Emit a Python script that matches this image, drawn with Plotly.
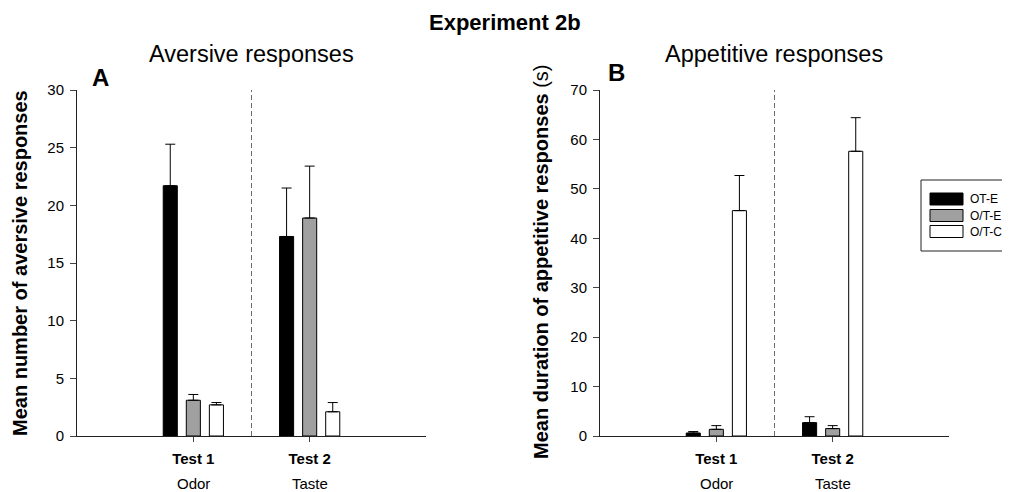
import plotly.graph_objects as go

# ---- data ----
tests = ["Test 1", "Test 2"]
modalities = ["Odor", "Taste"]
groups = ["OT-E", "O/T-E", "O/T-C"]
colors = ["#000000", "#a0a0a0", "#ffffff"]

aversive_mean = {"OT-E": [21.7, 17.3], "O/T-E": [3.1, 18.9], "O/T-C": [2.7, 2.1]}
aversive_upper = {"OT-E": [25.3, 21.5], "O/T-E": [3.6, 23.4], "O/T-C": [2.9, 2.9]}

appetitive_mean = {"OT-E": [0.6, 2.7], "O/T-E": [1.35, 1.5], "O/T-C": [45.6, 57.6]}
appetitive_upper = {"OT-E": [0.9, 3.9], "O/T-E": [2.1, 2.1], "O/T-C": [52.7, 64.4]}

FONT = "Arial, Liberation Sans, sans-serif"
W, H = 1010, 492
OFF = 8  # page offset of the plot div (body margin)


def px(x):
    return (x - OFF) / W


def py(y):
    return 1 - (y - OFF) / H


xpos = list(range(len(tests)))

fig = go.Figure()

for panel, (means, uppers) in enumerate([(aversive_mean, aversive_upper),
                                          (appetitive_mean, appetitive_upper)]):
    xa = "x" if panel == 0 else "x2"
    ya = "y" if panel == 0 else "y2"
    for g, c in zip(groups, colors):
        err = [u - m for u, m in zip(uppers[g], means[g])]
        fig.add_trace(go.Bar(
            x=xpos, y=means[g], name=g, xaxis=xa, yaxis=ya,
            marker=dict(color=c, line=dict(color="#000000", width=1)),
            error_y=dict(type="data", array=err, arrayminus=[0] * len(err),
                         symmetric=False, color="#000000", thickness=1, width=5),
            showlegend=False,
        ))
    # dashed separator between tests
    top = 30 if panel == 0 else 70
    fig.add_trace(go.Scatter(
        x=[0.5, 0.5], y=[0, top * 1.016],
        mode="lines", xaxis=xa, yaxis=ya, cliponaxis=False,
        line=dict(color="#6e6e6e", width=1, dash="5px,3px"),
        showlegend=False, hoverinfo="skip",
    ))

axis_common = dict(showline=True, linecolor="#222222", linewidth=1,
                   ticks="outside", tickcolor="#444444", ticklen=6,
                   showgrid=False, zeroline=False, automargin=False,
                   tickfont=dict(family=FONT, size=15, color="#000000"))
xaxis_common = dict(axis_common, ticklen=5, range=[-1, 2], tickvals=xpos,
                    ticktext=["<b>%s</b>" % t for t in tests], ticklabelstandoff=4)
yaxis_common = dict(axis_common, ticklabelstandoff=3)

ydom = [py(436), py(90)]
fig.update_layout(
    width=W, height=H,
    margin=dict(l=0, r=0, t=0, b=0, pad=0, autoexpand=False),
    paper_bgcolor="white", plot_bgcolor="white",
    barmode="group", bargap=0.405, bargroupgap=0.39,
    font=dict(family=FONT, color="#000000"),
    showlegend=False,
    xaxis=dict(domain=[px(77), px(426)], anchor="y", **xaxis_common),
    yaxis=dict(domain=ydom, range=[0, 30], dtick=5, anchor="x", **yaxis_common),
    xaxis2=dict(domain=[px(600), px(949)], anchor="y2", **xaxis_common),
    yaxis2=dict(domain=ydom, range=[0, 70], dtick=10, anchor="x2", **yaxis_common),
)

ann = []
ann.append(dict(text="<b>Experiment 2b</b>", x=505, y=9, font=dict(size=22), yanchor="top"))
ann.append(dict(text="Aversive responses", x=251, y=54, font=dict(size=23.5)))
ann.append(dict(text="Appetitive responses", x=774, y=54, font=dict(size=23.5)))
ann.append(dict(text="<b>A</b>", x=100, y=77, font=dict(size=24)))
ann.append(dict(text="<b>B</b>", x=616, y=72, font=dict(size=24)))
ann.append(dict(text="<b>Mean number of aversive responses</b>", x=20, y=263,
                textangle=-90, font=dict(size=20)))
ann.append(dict(text="<b>Mean duration of appetitive responses</b> (s)", x=541, y=262,
                textangle=-90, font=dict(size=20)))
layout_ann = []
for a in ann:
    layout_ann.append(dict(xref="paper", yref="paper", x=px(a["x"]), y=py(a["y"]),
                           xanchor="center", yanchor=a.get("yanchor", "middle"),
                           borderpad=0,
                           showarrow=False, text=a["text"], textangle=a.get("textangle", 0),
                           font=dict(family=FONT, color="#000000", **a["font"])))
# sub-labels under test ticks
for xa in ["x", "x2"]:
    for xp, m in zip(xpos, modalities):
        layout_ann.append(dict(xref=xa, yref="paper", x=xp, y=py(483),
                               xanchor="center", yanchor="middle", showarrow=False,
                               text=m, font=dict(family=FONT, size=15, color="#000000")))

# legend (manual, box partly clipped at right edge like the reference)
shapes = [dict(type="rect", xref="paper", yref="paper",
               x0=px(921), x1=1.05, y0=py(251), y1=py(180),
               line=dict(color="#222222", width=1), fillcolor="white")]
row_y = [199, 215.5, 231.5]
for g, c, ry in zip(groups, colors, row_y):
    shapes.append(dict(type="rect", xref="paper", yref="paper",
                       x0=px(930), x1=px(963), y0=py(ry + 6), y1=py(ry - 6),
                       line=dict(color="#000000", width=1), fillcolor=c))
    layout_ann.append(dict(xref="paper", yref="paper", x=px(968), y=py(ry),
                           xanchor="left", yanchor="middle", showarrow=False, text=g,
                           font=dict(family=FONT, size=12, color="#000000")))

fig.update_layout(annotations=layout_ann, shapes=shapes)
fig.write_html("out.html")
